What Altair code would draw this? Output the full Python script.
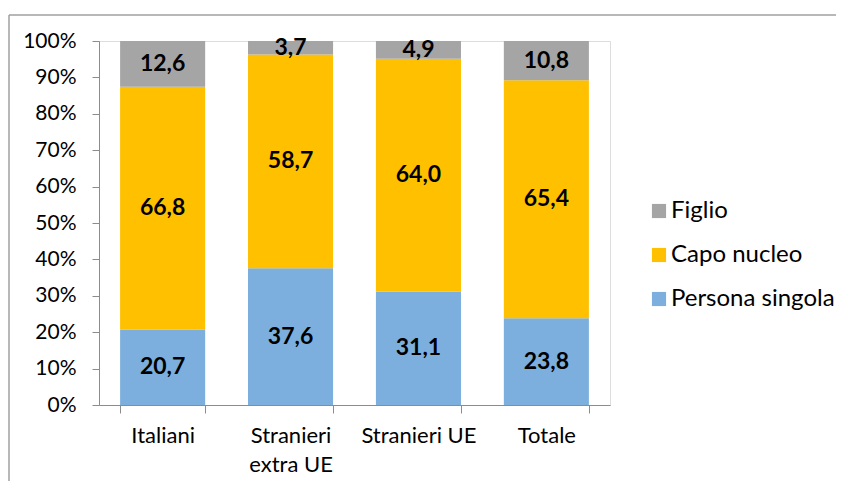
import altair as alt
import pandas as pd

categories = ["Italiani", "Stranieri extra UE", "Stranieri UE", "Totale"]
series = ["Persona singola", "Capo nucleo", "Figlio"]
persona_singola = [20.7, 37.6, 31.1, 23.8]
capo_nucleo = [66.8, 58.7, 64.0, 65.4]
figlio = [12.6, 3.7, 4.9, 10.8]
y_ticks = [0, 0.1, 0.2, 0.3, 0.4, 0.5, 0.6, 0.7, 0.8, 0.9, 1.0]

rows = []
for i, c in enumerate(categories):
    for j, (s, vals) in enumerate(zip(series, [persona_singola, capo_nucleo, figlio])):
        rows.append({"cat": c, "serie": s, "v": vals[i], "ord": j})
df = pd.DataFrame(rows)

FONT = "Lato"
colors = alt.Scale(domain=["Figlio", "Capo nucleo", "Persona singola"],
                   range=["#A5A5A5", "#FFC000", "#7CAFDD"])

base = alt.Chart(df).transform_stack(
    stack="v", groupby=["cat"], as_=["y0", "y1"], offset="normalize",
    sort=[alt.SortField("ord", order="ascending")]
).transform_calculate(
    mid="(datum.y0 + datum.y1) / 2",
    lab="replace(format(datum.v, '.1f'), '.', ',')"
)

xaxis = alt.Axis(labelAngle=0, tickBand="extent", tickSize=8,
                 tickColor="#8c8c8c", domainColor="#8c8c8c",
                 labelFont=FONT, labelFontSize=22, labelColor="#000000",
                 labelPadding=12, labelLineHeight=29, labelBaseline="top",
                 labelOverlap=False,
                 labelExpr="datum.value == 'Stranieri extra UE' ? ['Stranieri', 'extra UE'] : datum.value")
xscale = alt.Scale(paddingInner=0.335, paddingOuter=0.165)
yaxis = alt.Axis(values=y_ticks, format=".0%", grid=False, tickSize=7,
                 tickColor="#8c8c8c", domainColor="#8c8c8c",
                 labelFont=FONT, labelFontSize=21, labelColor="#000000",
                 labelPadding=16, labelOverlap=False, tickCount=11)
yscale = alt.Scale(domain=[0, 1], nice=False)

bars = base.mark_bar().encode(
    x=alt.X("cat:N", sort=categories, title=None, scale=xscale, axis=xaxis),
    y=alt.Y("y0:Q", title=None, scale=yscale, axis=yaxis),
    y2="y1:Q",
    color=alt.Color("serie:N", scale=colors, title=None,
                    legend=alt.Legend(orient="none", legendX=548, legendY=158,
                                      symbolType="square", symbolSize=200,
                                      symbolStrokeWidth=0, labelFont=FONT,
                                      labelFontSize=24, labelColor="#000000",
                                      labelLimit=400,
                                      rowPadding=20, labelOffset=0, padding=0)),
    order=alt.Order("ord:Q")
)

texts = base.mark_text(font=FONT, fontSize=23, fontWeight="bold", color="#000000",
                       baseline="middle").encode(
    x=alt.X("cat:N", sort=categories, title=None, scale=xscale, axis=xaxis),
    y=alt.Y("mid:Q", title=None, scale=yscale, axis=yaxis),
    text="lab:N"
)

frame_df = pd.DataFrame({"k": [0]})
top_line = alt.Chart(frame_df).mark_rule(color="#a0a0a0", strokeWidth=1.5).encode(
    x=alt.value(-90), x2=alt.value(760), y=alt.value(-26))
left_line = alt.Chart(frame_df).mark_rule(color="#a0a0a0", strokeWidth=1.5).encode(
    x=alt.value(-90), y=alt.value(-26), y2=alt.value(460))

chart = alt.layer(bars, texts, top_line, left_line).properties(
    width=511, height=364,
    autosize=alt.AutoSizeParams(type="none"),
    padding={"left": 91, "top": 33, "right": 226, "bottom": 76}
).configure_view(stroke=None).configure(background="white")

chart.save("out.html", embed_options={"renderer": "svg", "actions": False})
